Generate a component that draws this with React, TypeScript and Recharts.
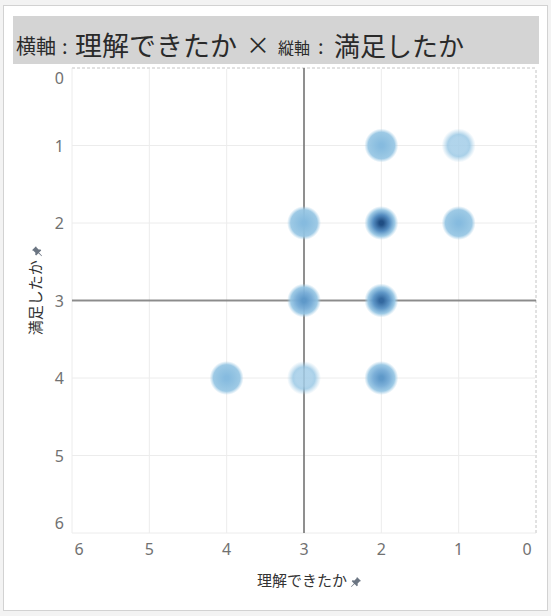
import { CartesianGrid, ReferenceLine, Scatter, ScatterChart, XAxis, YAxis } from "recharts"

// 理解できたか (x) / 満足したか (y) / 人数
const understood = [1, 2, 3, 2, 1, 3, 2, 4, 3, 2]
const satisfied = [1, 1, 2, 2, 2, 3, 3, 4, 4, 4]
const respondents = [1, 2, 2, 6, 2, 3, 5, 2, 1, 3]
const axisTicks = [0, 1, 2, 3, 4, 5, 6]

const data = understood.map((x, i) => ({ x, y: satisfied[i], n: respondents[i] }))

const centerColors = ["#a9d1ea", "#a3cde8", "#86bbdf", "#5f99c9", "#4a82b7", "#33689f", "#1f4d83"]
const midColors = ["#a9d1ea", "#a3cde8", "#8fc1e1", "#78add7", "#6aa2d0", "#5a94c6", "#4f89bf"]
const JP = "'Noto Sans CJK JP', 'Noto Sans', sans-serif"

function Blob(props: any) {
  const { cx, cy, payload } = props
  const n = payload.n
  const k = Math.min(n, 6)
  const id = `blob-${payload.x}-${payload.y}`
  const soft = n <= 1
  return (
    <g>
      <defs>
        <radialGradient id={id} cx="50%" cy="50%" r="50%">
          <stop offset="0%" stopColor={centerColors[k]} stopOpacity={soft ? 0.85 : 1} />
          <stop offset="12%" stopColor={centerColors[k]} stopOpacity={soft ? 0.85 : 1} />
          <stop offset="48%" stopColor={midColors[k]} stopOpacity={soft ? 0.85 : 0.97} />
          <stop offset={soft ? "65%" : "78%"} stopColor="#95c5e3" stopOpacity={soft ? 0.8 : 0.92} />
          <stop offset="100%" stopColor="#a8d0e8" stopOpacity={0} />
        </radialGradient>
      </defs>
      <circle cx={cx} cy={cy} r={17} fill={`url(#${id})`} />
    </g>
  )
}

function XTick(props: any) {
  const { x, y, payload } = props
  const shift = payload.value === 6 ? 7 : payload.value === 0 ? -9 : 0
  return (
    <text x={x + shift} y={y} dy={14} textAnchor="middle" fill="#717171" fontSize={16} fontFamily="'Noto Sans', sans-serif">
      {payload.value}
    </text>
  )
}

function YTick(props: any) {
  const { y, payload } = props
  const shift = payload.value === 0 ? 10 : payload.value === 6 ? -10 : 0
  return (
    <text x={64} y={y + shift} dy={6} textAnchor="end" fill="#717171" fontSize={16} fontFamily="'Noto Sans', sans-serif">
      {payload.value}
    </text>
  )
}

function Pin() {
  return (
    <svg width="12" height="12" viewBox="0 0 12 12" style={{ verticalAlign: "middle" }}>
      <path d="M7 1 L11 5 L9.6 5.6 L7.6 7.6 L7.8 9.6 L6.8 10.2 L4.6 8 L1.4 11 L1 10.6 L4 7.4 L1.8 5.2 L2.4 4.2 L4.4 4.4 L6.4 2.4 Z" fill="#6b7582" />
    </svg>
  )
}

export default function App() {
  return (
    <div style={{ position: "absolute", left: 0, top: 0, width: 551, height: 616, background: "#f3f3f3" }}>
      <div
        style={{
          position: "absolute",
          left: 3,
          top: 5,
          width: 543,
          height: 604,
          border: "1px solid #d2d2d2",
          background: "#ffffff",
        }}
      />
      <svg width={551} height={70} style={{ position: "absolute", left: 0, top: 0 }}>
        <rect x={13} y={16} width={526} height={48} fill="#d4d4d4" />
        <g fill="#2a2a2a" fontFamily={JP}>
          <text x={16} y={54} fontSize={20}>横軸</text>
          <text x={62} y={54} fontSize={20}>:</text>
          <text x={75} y={56} fontSize={27}>理解できたか</text>
          <text x={246} y={54} fontSize={24}>×</text>
          <text x={278} y={54} fontSize={16}>縦軸</text>
          <text x={318} y={54} fontSize={20}>:</text>
          <text x={334} y={56} fontSize={26}>満足したか</text>
        </g>
      </svg>
      <ScatterChart
        width={551}
        height={616}
        margin={{ top: 68, right: 15, bottom: 53, left: 32 }}
        style={{ position: "absolute", left: 0, top: 0 }}
      >
        <CartesianGrid stroke="#ececec" />
        <XAxis
          type="number"
          dataKey="x"
          domain={[0, 6]}
          ticks={axisTicks}
          reversed
          height={30}
          axisLine={false}
          tickLine={false}
          tick={<XTick />}
          interval={0}
        />
        <YAxis
          type="number"
          dataKey="y"
          domain={[0, 6]}
          ticks={axisTicks}
          reversed
          width={40}
          axisLine={false}
          tickLine={false}
          tick={<YTick />}
          interval={0}
        />
        <ReferenceLine y={0} stroke="#ffffff" strokeWidth={2} />
        <ReferenceLine x={0} stroke="#ffffff" strokeWidth={2} />
        <ReferenceLine y={0} stroke="#c4c4c4" strokeDasharray="3 2" />
        <ReferenceLine x={0} stroke="#c4c4c4" strokeDasharray="3 2" />
        <Scatter data={data} shape={<Blob />} isAnimationActive={false} fillOpacity={0.92} />
        <ReferenceLine x={3} stroke="#6c6c6c" strokeOpacity={0.75} strokeWidth={2} />
        <ReferenceLine y={3} stroke="#6c6c6c" strokeOpacity={0.75} strokeWidth={2} />
      </ScatterChart>
      <div
        style={{
          position: "absolute",
          left: 257,
          top: 569,
          fontFamily: JP,
          fontSize: 15,
          color: "#333333",
          whiteSpace: "nowrap",
          lineHeight: "22px",
        }}
      >
        理解できたか <Pin />
      </div>
      <div
        style={{
          position: "absolute",
          left: 35,
          top: 290,
          transform: "translate(-50%, -50%) rotate(-90deg)",
          fontFamily: JP,
          fontSize: 15,
          color: "#333333",
          whiteSpace: "nowrap",
          lineHeight: "22px",
        }}
      >
        満足したか <Pin />
      </div>
    </div>
  )
}
